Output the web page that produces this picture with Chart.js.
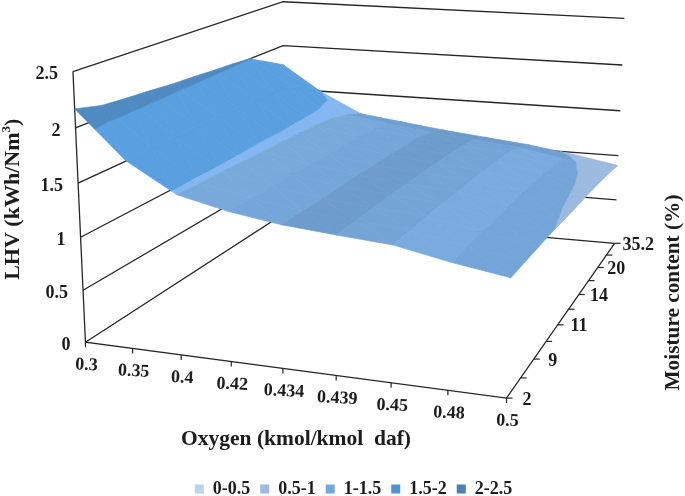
<!DOCTYPE html>
<html>
<head>
<meta charset="utf-8">
<title>LHV surface</title>
<script src="https://cdn.jsdelivr.net/npm/chart.js@4/dist/chart.umd.min.js"></script>
<style>
	html, body { margin: 0; padding: 0; background: #fff; }
	canvas { display: block; }
</style>
</head>
<body>
<canvas id="chart" width="685" height="496"></canvas>
<script>
// Axis categories
const oxygenLabels = ["0.3", "0.35", "0.4", "0.42", "0.434", "0.439", "0.45", "0.48", "0.5"];
const moistureLabels = ["2", "", "9", "", "11", "", "14", "", "20", "", "35.2"];
const lhvTicks = [0, 0.5, 1, 1.5, 2, 2.5];
const bandNames = ["0-0.5", "0.5-1", "1-1.5", "1.5-2", "2-2.5"];

// LHV, one row per moisture category (front to back)
const lhv = [
	[2.17, 1.74, 1.47, 1.36, 1.285, 1.24, 1.20, 1.10, 1.02],
	[2.11, 1.76, 1.46, 1.36, 1.285, 1.24, 1.20, 1.10, 1.015],
	[2.09, 1.76, 1.46, 1.36, 1.28, 1.24, 1.20, 1.10, 1.01],
	[2.075, 1.76, 1.45, 1.36, 1.28, 1.24, 1.20, 1.10, 1.005],
	[2.055, 1.76, 1.44, 1.35, 1.28, 1.23, 1.19, 1.10, 0.99],
	[2.045, 1.75, 1.44, 1.35, 1.27, 1.23, 1.19, 1.10, 0.975],
	[2.03, 1.75, 1.43, 1.34, 1.27, 1.22, 1.18, 1.09, 0.965],
	[2.02, 1.74, 1.42, 1.33, 1.26, 1.21, 1.17, 1.08, 0.955],
	[2.0, 1.73, 1.40, 1.32, 1.25, 1.20, 1.16, 1.06, 0.94],
	[1.89, 1.66, 1.35, 1.28, 1.22, 1.17, 1.12, 1.03, 0.92],
	[1.78, 1.49, 1.27, 1.21, 1.15, 1.10, 1.05, 0.98, 0.89],
];

const zMax = 2.5;
const bandEdges = [0, 0.5, 1, 1.5, 2, 2.5];
const legendColors = ["#bed2ec", "#9dbbe1", "#74a7db", "#4f92cf", "#4a80b4"];
const surfaceColors = ["#bed2ec", "#9cb9df", "#7ba9da", "#5a9fdf", "#4f8ac3"];
// 1-1.5 band shifts a little from strip to strip, darker along the back row
const stripColors = ["#84b7f1", "#84b7f1", "#79a9da", "#75a6d9", "#6e9ccc", "#74a4d6", "#7aabdf", "#73a5d8"];
const backStripColors = ["#84b7f1", "#84b7f1", "#6f9fd1", "#6f9ecf", "#6b99c9", "#6b9acb", "#6fa0d1", "#70a1d4"];
const lineColor = "#262626";

// Perspective box, the eight corners come from these four plus the weights
const A = [85.5, 342];
const X = [507, 398];
const Y = [283, 214];
const Z = [73, 71];
const dx = 0.883;
const dy = 1.307;
const dz = 0.95;

function project(u, v, w) {
	const d = 1 + u * (dx - 1) + v * (dy - 1) + w * (dz - 1);
	// small correction so the top of the back wall lands where the picture has it
	return {
		x: (A[0] + u * (X[0] * dx - A[0]) + v * (Y[0] * dy - A[0]) + w * (Z[0] * dz - A[0])) / d + w * v * (2 - 5 * u),
		y: (A[1] + u * (X[1] * dx - A[1]) + v * (Y[1] * dy - A[1]) + w * (Z[1] * dz - A[1])) / d + w * v * (-3 + 8 * u),
	};
}

function lineSet(points, width) {
	return {
		type: "scatter",
		data: points,
		showLine: true,
		borderColor: lineColor,
		borderWidth: width || 1.3,
		pointRadius: 0,
		fill: false,
		clip: false,
	};
}

// Keep the part of a polygon between two heights
function clipHeight(poly, limit, keepAbove) {
	const out = [];
	poly.forEach((p, i) => {
		const q = poly[(i + 1) % poly.length];
		const pIn = keepAbove ? p[2] >= limit : p[2] <= limit;
		const qIn = keepAbove ? q[2] >= limit : q[2] <= limit;
		if (pIn) out.push(p);
		if (pIn !== qIn) {
			const t = (limit - p[2]) / (q[2] - p[2]);
			out.push([p[0] + t * (q[0] - p[0]), p[1] + t * (q[1] - p[1]), limit]);
		}
	});
	return out;
}

function facetSets(tri, column, row) {
	const sets = [];
	bandNames.forEach((name, b) => {
		let poly = clipHeight(tri, bandEdges[b], true);
		if (poly.length) poly = clipHeight(poly, bandEdges[b + 1], false);
		if (poly.length < 3) return;
		const strips = row === moistureLabels.length - 2 ? backStripColors : stripColors;
		const color = b === 2 ? strips[column] : surfaceColors[b];
		const points = poly.map(p => project(p[0], p[1], p[2] / zMax));
		points.push(points[0]);
		sets.push({
			type: "scatter",
			data: points,
			showLine: true,
			fill: "shape",
			backgroundColor: color,
			borderColor: color,
			borderWidth: 0.7,
			pointRadius: 0,
			clip: false,
		});
	});
	return sets;
}

function buildDatasets() {
	const painted = [];
	const nU = oxygenLabels.length - 1;
	const nV = moistureLabels.length - 1;

	// Walls and floor
	lhvTicks.forEach(t => {
		const w = t / zMax;
		painted.push(lineSet([project(0, 0, w), project(0, 1, w), project(1, 1, w)]));
	});
	painted.push(lineSet([project(0, 0, 1), project(0, 0, 0), project(1, 0, 0), project(1, 1, 0)]));

	// Surface, back row first
	for (let j = nV - 1; j >= 0; j--) {
		for (let i = 0; i < nU; i++) {
			const p00 = [i / nU, j / nV, lhv[j][i]];
			const p10 = [(i + 1) / nU, j / nV, lhv[j][i + 1]];
			const p01 = [i / nU, (j + 1) / nV, lhv[j + 1][i]];
			const p11 = [(i + 1) / nU, (j + 1) / nV, lhv[j + 1][i + 1]];
			painted.push(...facetSets([p01, p11, p10], i, j));
			painted.push(...facetSets([p01, p10, p00], i, j));
		}
	}

	// Tick marks
	oxygenLabels.forEach((label, i) => {
		const p = project(i / nU, 0, 0);
		painted.push(lineSet([p, { x: p.x, y: p.y + 5 }], 1.2));
	});
	moistureLabels.forEach((label, j) => {
		const p = project(1, j / nV, 0);
		painted.push(lineSet([p, { x: p.x + 6, y: p.y }], 1.2));
	});

	// Empty sets only for the legend
	const legendSets = bandNames.map((name, b) => ({
		type: "scatter",
		label: name,
		data: [],
		backgroundColor: legendColors[b],
		borderColor: legendColors[b],
		borderWidth: 0,
	}));

	// Chart.js paints the first dataset last
	return legendSets.concat(painted.reverse());
}

// Axis text sits on the projected box so it is drawn here
const axisText = {
	id: "axisText",
	afterDraw(chart) {
		const ctx = chart.ctx;
		const sx = chart.scales.x;
		const sy = chart.scales.y;
		const nU = oxygenLabels.length - 1;
		const nV = moistureLabels.length - 1;
		const px = p => ({ x: sx.getPixelForValue(p.x), y: sy.getPixelForValue(p.y) });
		const titleFont = "bold 22px 'Liberation Serif'";
		ctx.save();
		ctx.fillStyle = "#1c1c1c";
		ctx.textBaseline = "middle";
		ctx.font = "bold 18px 'Liberation Serif'";

		ctx.textAlign = "right";
		lhvTicks.forEach(t => {
			const p = px(project(0, 0, t / zMax));
			ctx.fillText(String(t), p.x - 15, p.y + 3);
		});

		ctx.textAlign = "center";
		oxygenLabels.forEach((label, i) => {
			const p = px(project(i / nU, 0, 0));
			ctx.save();
			ctx.translate(p.x + 1, p.y + 23);
			ctx.rotate(0.05);
			ctx.fillText(label, 0, 0);
			ctx.restore();
		});

		ctx.textAlign = "left";
		moistureLabels.forEach((label, j) => {
			const p = px(project(1, j / nV, 0));
			ctx.fillText(label, p.x + 16 - 8 * j / nV, p.y + 2);
		});

		ctx.font = "bold 21.5px 'Liberation Serif'";
		ctx.textAlign = "center";
		ctx.fillText("Oxygen (kmol/kmol  daf)", 296, 439);

		ctx.save();
		ctx.translate(673, 292.5);
		ctx.rotate(-Math.PI / 2);
		ctx.font = "bold 21.3px 'Liberation Serif'";
		ctx.fillText("Moisture content (%)", 0, 0);
		ctx.restore();

		ctx.save();
		ctx.translate(13, 197);
		ctx.rotate(-Math.PI / 2);
		ctx.font = titleFont;
		ctx.textAlign = "left";
		const main = "LHV (kWh/Nm";
		const w = ctx.measureText(main + "3)").width;
		ctx.fillText(main, -w / 2, 0);
		const mainW = ctx.measureText(main).width;
		ctx.font = "bold 13px 'Liberation Serif'";
		ctx.fillText("3", -w / 2 + mainW, -6);
		const supW = ctx.measureText("3").width;
		ctx.font = titleFont;
		ctx.fillText(")", -w / 2 + mainW + supW, 0);
		ctx.restore();

		ctx.restore();
	},
};

const chart = new Chart(document.getElementById("chart").getContext("2d"), {
	type: "scatter",
	data: { datasets: buildDatasets() },
	plugins: [axisText],
	options: {
		responsive: false,
		animation: false,
		layout: { padding: { left: 22, right: 0, top: 0, bottom: -12 } },
		plugins: {
			tooltip: { enabled: false },
			legend: {
				position: "bottom",
				labels: {
					filter: item => item.text !== undefined,
					boxWidth: 9,
					boxHeight: 9,
					padding: 10,
					color: "#1c1c1c",
					font: { family: "'Liberation Serif'", size: 18, weight: "bold" },
				},
			},
		},
		scales: {
			x: { type: "linear", min: 22, max: 685, display: false },
			y: { type: "linear", min: 0, max: 440, reverse: true, display: false },
		},
	},
});

// The legend takes room below and the padding room on the left, so line the scales up with the plot area
chart.options.scales.x.min = chart.chartArea.left;
chart.options.scales.x.max = chart.chartArea.right;
chart.options.scales.y.max = chart.chartArea.bottom;
chart.update("none");
</script>
</body>
</html>
